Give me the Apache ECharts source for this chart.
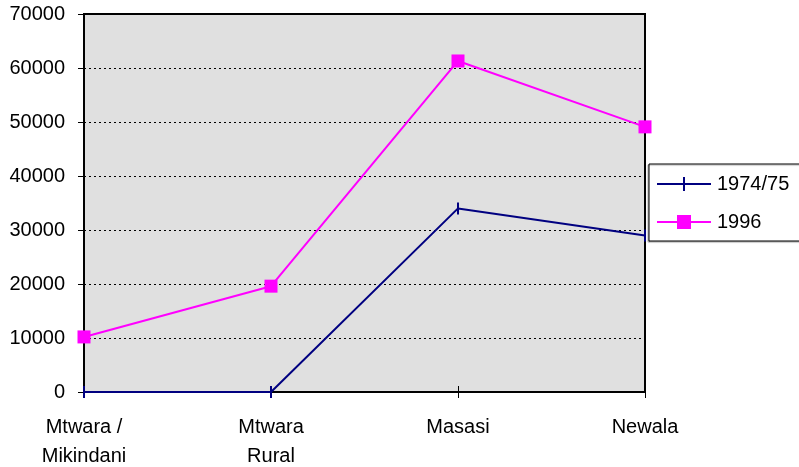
<!DOCTYPE html>
<html>
<head>
<meta charset="utf-8">
<script src="https://cdn.jsdelivr.net/npm/echarts@6/dist/echarts.min.js"></script>
<style>
  html, body { margin: 0; padding: 0; background: #ffffff; }
  #chart { width: 799px; height: 467px; }
</style>
</head>
<body>
<div id="chart"></div>
<script>
// Districts along the category axis
const districts = ['Mtwara /\nMikindani', 'Mtwara\nRural', 'Masasi', 'Newala'];

// Values per census year
const values1974 = [0, 0, 34000, 29000];
const values1996 = [10200, 19600, 61300, 49100];

// Value axis ticks
const yTicks = [0, 10000, 20000, 30000, 40000, 50000, 60000, 70000];

const FONT = '"Liberation Sans", Arial, sans-serif';
const NAVY = '#000080';
const MAGENTA = '#ff00ff';

const chart = echarts.init(document.getElementById('chart'), null, { renderer: 'canvas' });

chart.setOption({
  animation: false,
  backgroundColor: '#ffffff',
  textStyle: { fontFamily: FONT },
  grid: {
    left: 84, right: 154, top: 14, bottom: 75,
    outerBoundsMode: 'none',
    containLabel: false,
    show: true,
    backgroundColor: '#e0e0e0',
    borderColor: '#000000',
    borderWidth: 2
  },
  legend: {
    orient: 'vertical',
    left: 649,
    top: 164,
    padding: [10, 80, 9, 8],
    itemGap: 18,
    itemWidth: 54,
    itemHeight: 14,
    backgroundColor: '#ffffff',
    borderColor: '#000000',
    borderWidth: 1,
    shadowColor: 'rgba(0,0,0,0.35)',
    shadowOffsetX: -1,
    shadowOffsetY: 1,
    shadowBlur: 1,
    textStyle: { fontFamily: FONT, fontSize: 20, color: '#000000', lineHeight: 20, padding: [0, 0, 0, 1] },
    data: [
      { name: '1974/75', icon: 'path://M0,6 L54,6 L54,8 L0,8 Z M26,0 L28,0 L28,14 L26,14 Z' },
      { name: '1996', icon: 'path://M0,6 L54,6 L54,8 L0,8 Z M20,0 L34,0 L34,14 L20,14 Z' }
    ]
  },
  xAxis: [
    {
      type: 'category',
      data: districts,
      boundaryGap: false,
      axisLine: { show: true, lineStyle: { color: '#000000', width: 2 } },
      axisTick: { show: true, inside: false, length: 6, alignWithLabel: true, lineStyle: { color: '#000000', width: 1 } },
      axisLabel: {
        interval: 0,
        margin: 21,
        fontFamily: FONT,
        fontSize: 20,
        lineHeight: 29,
        color: '#000000'
      },
      splitLine: { show: false }
    },
    {
      // inner half of the crossing ticks
      type: 'category',
      data: districts,
      boundaryGap: false,
      position: 'bottom',
      axisLine: { show: false },
      axisTick: { show: true, inside: true, length: 6, lineStyle: { color: '#000000', width: 1 } },
      axisLabel: { show: false },
      splitLine: { show: false }
    }
  ],
  yAxis: {
    type: 'value',
    min: yTicks[0],
    max: yTicks[yTicks.length - 1],
    interval: 10000,
    axisLine: { show: true, lineStyle: { color: '#000000', width: 2 } },
    axisTick: { show: true, inside: false, length: 6, lineStyle: { color: '#000000', width: 1 } },
    axisLabel: {
      margin: 19,
      fontFamily: FONT,
      fontSize: 20,
      color: '#000000',
      formatter: v => (yTicks.includes(v) ? String(v) : '')
    },
    splitLine: { show: true, lineStyle: { color: '#000000', type: [2, 3], width: 1 } }
  },
  series: [
    {
      name: '1974/75',
      type: 'line',
      data: values1974,
      color: NAVY,
      symbol: 'rect',
      symbolSize: [2, 12],
      showAllSymbol: true,
      lineStyle: { color: NAVY, width: 2 },
      itemStyle: { color: NAVY },
      clip: false,
      z: 3
    },
    {
      name: '1996',
      type: 'line',
      data: values1996,
      color: MAGENTA,
      symbol: 'rect',
      symbolSize: 13,
      showAllSymbol: true,
      lineStyle: { color: MAGENTA, width: 2 },
      itemStyle: { color: MAGENTA },
      clip: false,
      z: 4
    }
  ]
});
</script>
</body>
</html>
